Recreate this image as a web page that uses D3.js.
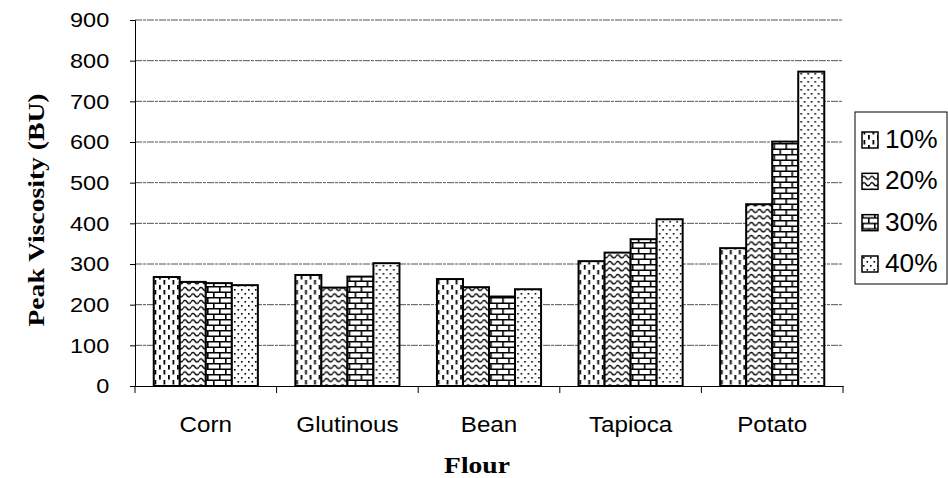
<!DOCTYPE html>
<html>
<head>
    <meta charset="utf-8">
    <title>Peak Viscosity</title>
    <style type="text/css">
        html, body { margin: 0; padding: 0; background: #fff; }
        .tick text { font-family: "Liberation Sans", Arial, sans-serif; }
        .title { font-family: "Liberation Serif", "Times New Roman", serif; font-weight: bold; }
    </style>
</head>
<body>
<svg id="svg" width="948" height="478"></svg>

<script src="https://cdn.jsdelivr.net/npm/d3@7/dist/d3.min.js"></script>
<script type="text/javascript">
    // data
    var flours = ['Corn', 'Glutinous', 'Bean', 'Tapioca', 'Potato'];
    var levels = ['10%', '20%', '30%', '40%'];
    var v10 = [268, 273, 263, 307, 339];
    var v20 = [256, 242, 243, 328, 447];
    var v30 = [253, 269, 220, 361, 601];
    var v40 = [248, 302, 238, 410, 773];
    var yTicks = [0, 100, 200, 300, 400, 500, 600, 700, 800, 900];

    var values = [v10, v20, v30, v40];
    var patternIds = ['p10', 'p20', 'p30', 'p40'];

    var svg = d3.select('#svg');
    var plotL = 135, plotR = 843, plotT = 20, plotB = 386;

    var x0 = d3.scaleBand().domain(flours).range([plotL, plotR]);
    var x1 = d3.scaleBand().domain(levels).range([0, x0.bandwidth()]).paddingOuter(0.72);
    var y = d3.scaleLinear().domain([0, 900]).range([plotB, plotT]);

    // patterns
    var defs = svg.append('defs');
    function pattern(id, w, h) {
        var p = defs.append('pattern').attr('id', id)
            .attr('patternUnits', 'userSpaceOnUse')
            .attr('width', w).attr('height', h);
        p.append('rect').attr('width', w).attr('height', h).attr('fill', '#fff');
        return p;
    }
    var p10 = pattern('p10', 9, 10);
    p10.append('rect').attr('x', 1.5).attr('y', 0).attr('width', 1.8).attr('height', 4.5).attr('fill', '#000');
    p10.append('rect').attr('x', 6).attr('y', 5).attr('width', 1.8).attr('height', 4.5).attr('fill', '#000');

    var p20 = pattern('p20', 8, 6.5);
    p20.append('path').attr('d', 'M0,3 Q2,0 4,3 Q6,6 8,3')
        .attr('fill', 'none').attr('stroke', '#000').attr('stroke-width', 1.4);

    var p30 = pattern('p30', 12, 11);
    p30.append('path').attr('d', 'M0,0.8 H12 M0,6.3 H12 M0.8,0.8 V6.3 M6.8,6.3 V11')
        .attr('fill', 'none').attr('stroke', '#000').attr('stroke-width', 1.6);

    var p40 = pattern('p40', 7, 8);
    p40.append('rect').attr('x', 1).attr('y', 1).attr('width', 1.6).attr('height', 1.6).attr('fill', '#000');
    p40.append('rect').attr('x', 4.5).attr('y', 5).attr('width', 1.6).attr('height', 1.6).attr('fill', '#000');

    // gridlines
    svg.append('g').selectAll('line')
        .data(yTicks.slice(1))
        .enter().append('line')
        .attr('x1', plotL).attr('x2', plotR)
        .attr('y1', (d) => y(d)).attr('y2', (d) => y(d))
        .attr('stroke', '#555')
        .attr('stroke-width', 1)
        .attr('stroke-dasharray', '7,1,3,1');

    // bars
    var groups = svg.append('g').selectAll('g')
        .data(flours)
        .enter().append('g')
        .attr('transform', (d) => 'translate(' + x0(d) + ',0)');

    groups.selectAll('rect')
        .data((d, i) => levels.map((l, j) => ({level: l, value: values[j][i], pat: patternIds[j]})))
        .enter().append('rect')
        .attr('x', (d) => x1(d.level))
        .attr('width', x1.bandwidth())
        .attr('y', (d) => y(d.value))
        .attr('height', (d) => y(0) - y(d.value))
        .attr('fill', (d) => 'url(#' + d.pat + ')')
        .attr('stroke', '#000')
        .attr('stroke-width', 2);

    // axes
    var yAxis = d3.axisLeft(y).tickValues(yTicks).tickSize(5).tickPadding(18);
    var gy = svg.append('g').attr('transform', 'translate(' + plotL + ',0)').call(yAxis);
    gy.select('.domain').attr('stroke', '#000');
    gy.selectAll('.tick text')
        .attr('font-size', 21)
        .attr('fill', '#000')
        .attr('transform', 'scale(1.12,1)');

    var xAxis = d3.axisBottom(x0).tickSize(0).tickPadding(30);
    var gx = svg.append('g').attr('transform', 'translate(0,' + plotB + ')').call(xAxis);
    gx.select('.domain').attr('stroke', '#000');
    gx.selectAll('.tick text')
        .attr('font-size', 22)
        .attr('fill', '#000')
        .attr('transform', 'scale(1.1,1)');
    // category separators
    gx.selectAll('.sep')
        .data(flours.concat(['end']))
        .enter().append('line')
        .attr('class', 'sep')
        .attr('x1', (d) => d === 'end' ? plotR : x0(d))
        .attr('x2', (d) => d === 'end' ? plotR : x0(d))
        .attr('y1', 0).attr('y2', 7)
        .attr('stroke', '#000');

    // titles
    svg.append('text')
        .attr('class', 'title')
        .attr('transform', 'translate(44,210) rotate(-90) scale(1.15,1)')
        .attr('text-anchor', 'middle')
        .attr('font-size', 24)
        .text('Peak Viscosity (BU)');

    svg.append('text')
        .attr('class', 'title')
        .attr('transform', 'translate(477,473) scale(1.15,1)')
        .attr('text-anchor', 'middle')
        .attr('font-size', 24)
        .text('Flour');

    // legend
    var legend = svg.append('g');
    legend.append('rect')
        .attr('x', 855).attr('y', 112)
        .attr('width', 92).attr('height', 172)
        .attr('fill', '#fff')
        .attr('stroke', '#000');

    var ly = d3.scalePoint().domain(levels).range([140, 264]);
    var items = legend.selectAll('.item')
        .data(levels)
        .enter().append('g')
        .attr('class', 'item')
        .attr('transform', (d) => 'translate(862,' + ly(d) + ')');
    items.append('rect')
        .attr('x', 0).attr('y', -8)
        .attr('width', 16).attr('height', 16)
        .attr('fill', (d, i) => 'url(#' + patternIds[i] + ')')
        .attr('stroke', '#000')
        .attr('stroke-width', 1.5);
    items.append('text')
        .attr('x', 0).attr('y', 0)
        .attr('transform', 'translate(23,8) scale(1.05,1)')
        .attr('font-family', '"Liberation Sans", Arial, sans-serif')
        .attr('font-size', 25)
        .text((d) => d);
</script>
</body>
</html>
